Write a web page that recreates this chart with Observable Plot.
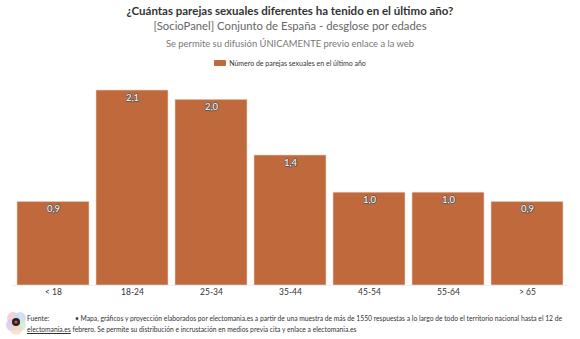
<!DOCTYPE html>
<html><head><meta charset="utf-8">
<script src="https://cdn.jsdelivr.net/npm/d3@7"></script>
<script src="https://cdn.jsdelivr.net/npm/@observablehq/plot@0.6"></script>
<style>
body{margin:0;background:#fff;font-family:Lato,"Open Sans",sans-serif;}
#wrap{position:relative;width:580px;height:339px;overflow:hidden;}
.t{position:absolute;left:0;width:580px;text-align:center;white-space:nowrap;}
#chart{position:absolute;left:0;top:75px;}
</style></head>
<body><div id="wrap">
<div class="t" style="top:4px;font-size:11.5px;font-weight:bold;color:#333;">¿Cuántas parejas sexuales diferentes ha tenido en el último año?</div>
<div class="t" style="top:19px;font-size:11.3px;color:#666;">[SocioPanel] Conjunto de España - desglose por edades</div>
<div class="t" style="top:38px;font-size:9.4px;color:#777;">Se permite su difusión ÚNICAMENTE previo enlace a la web</div>
<div class="t" style="top:58px;font-size:7px;color:#333;"><span style="display:inline-block;width:12px;height:6px;background:#c0693c;border-radius:1px;vertical-align:middle;margin-right:3px;"></span><span style="vertical-align:middle;">Número de parejas sexuales en el último año</span></div>
<div id="chart"></div>
<svg style="position:absolute;left:4px;top:310px;" width="24" height="26">
<circle cx="9" cy="8" r="6" fill="#f6c6cc" opacity="0.8"/><circle cx="16" cy="8" r="6" fill="#c6d9f2" opacity="0.8"/>
<circle cx="8" cy="15" r="6" fill="#d6c6ee" opacity="0.8"/><circle cx="16" cy="15" r="6" fill="#c9ecd2" opacity="0.8"/>
<circle cx="12" cy="19" r="6" fill="#f8d6c0" opacity="0.7"/><circle cx="12" cy="12" r="4" fill="#222"/>
<circle cx="12" cy="12" r="1.6" fill="#e44"/>
</svg>
<div style="position:absolute;left:27px;top:313px;font-size:6.72px;color:#333;line-height:10.5px;width:553px;">
<span style="display:inline-block;width:48px;">Fuente:</span>• Mapa, gráficos y proyección elaborados por electomania.es a partir de una muestra de más de 1550 respuestas a lo largo de todo el territorio nacional hasta el 12 de<br>
<span style="text-decoration:underline;">electomania.es</span> febrero. Se permite su distribución e incrustación en medios previa cita y enlace a electomania.es</div>
</div>
<script>
const categories = ["< 18","18-24","25-34","35-44","45-54","55-64","> 65"];
const values = [0.9,2.1,2.0,1.4,1.0,1.0,0.9];
const data = categories.map((c,i)=>({c, v: values[i]}));
const fmt = v => d3.format(".1f")(v).replace(".", ",");
const chart = Plot.plot({
  width: 580, height: 225,
  marginTop: 15, marginBottom: 15, marginLeft: 12, marginRight: 13,
  style: {fontFamily: "Lato, 'Open Sans', sans-serif", fontSize: "8.5px", color: "#333"},
  x: {domain: categories, paddingInner: 0.09, paddingOuter: 0.045, label: null, tickSize: 0, tickPadding: 3},
  y: {domain: [0, 2.1], axis: null},
  marks: [
    Plot.barY(data, {x: "c", y: "v", fill: "#c0693c", stroke: "#f0d2c4", strokeWidth: 0.6}),
    Plot.ruleY([0], {stroke: "#eee"}),
    Plot.text(data, {x: "c", y: "v", text: d => fmt(d.v), dy: 7, fill: "white", stroke: "#555", strokeWidth: 1.4, fontSize: 9.5})
  ]
});
document.getElementById("chart").appendChild(chart);
</script>
</body></html>
